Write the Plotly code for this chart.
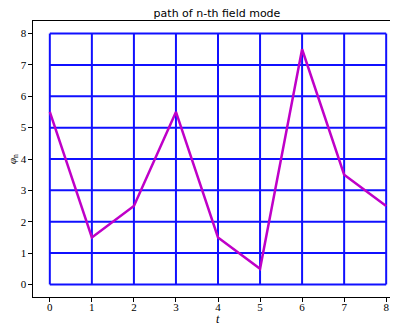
import plotly.graph_objects as go

t = [0, 1, 2, 3, 4, 5, 6, 7, 8]
phi_n = [5.5, 1.5, 2.5, 5.5, 1.5, 0.5, 7.5, 3.5, 2.5]
x_ticks = [0, 1, 2, 3, 4, 5, 6, 7, 8]
y_ticks = [0, 1, 2, 3, 4, 5, 6, 7, 8]

gx, gy = [], []
for xv in x_ticks:
    gx += [xv, xv, None]
    gy += [min(y_ticks), max(y_ticks), None]
for yv in y_ticks:
    gx += [min(x_ticks), max(x_ticks), None]
    gy += [yv, yv, None]

fig = go.Figure()
fig.add_trace(go.Scatter(x=gx, y=gy, mode="lines",
                         line=dict(color="#1010ff", width=2), hoverinfo="skip"))
fig.add_trace(go.Scatter(x=t, y=phi_n, mode="lines",
                         line=dict(color="#bf00c8", width=2.5)))

serif = "Liberation Serif, DejaVu Serif, serif"
fig.update_layout(
    width=398, height=324,
    margin=dict(l=25, r=3, t=13, b=35, autoexpand=False),
    paper_bgcolor="white", plot_bgcolor="white",
    showlegend=False,
    title=dict(text="path of n-th field mode", x=209/398, xref="container",
               xanchor="center", y=1 - 5/324, yanchor="middle",
               font=dict(family="DejaVu Sans, sans-serif", size=11, color="black")),
    xaxis=dict(range=[-0.4, 8.4], tickvals=x_ticks, ticktext=[str(v) for v in x_ticks],
               showgrid=False, zeroline=False, showline=True, linecolor="black",
               linewidth=1.2, mirror=True, ticks="outside", ticklen=3.5,
               tickcolor="black", tickfont=dict(family=serif, size=11, color="black"),
               ticklabelstandoff=-4, automargin=False),
    yaxis=dict(range=[-0.4, 8.4], tickvals=y_ticks, ticktext=[str(v) for v in y_ticks],
               showgrid=False, zeroline=False, showline=True, linecolor="black",
               linewidth=1.2, mirror=False, ticks="outside", ticklen=3.5,
               tickcolor="black", tickfont=dict(family=serif, size=11, color="black"),
               automargin=False),
    annotations=[
        dict(text="<i>t</i>", xref="x", x=4, yref="paper", y=0, yshift=-22,
             yanchor="middle", showarrow=False,
             font=dict(family=serif, size=12, color="black")),
        dict(text="<i>φ</i><sub>n</sub>", xref="paper", x=0, xshift=-20,
             xanchor="center", yref="y", y=4, yanchor="middle", textangle=-90,
             showarrow=False, font=dict(family=serif, size=11, color="black")),
    ],
)
fig.write_html("out.html")
